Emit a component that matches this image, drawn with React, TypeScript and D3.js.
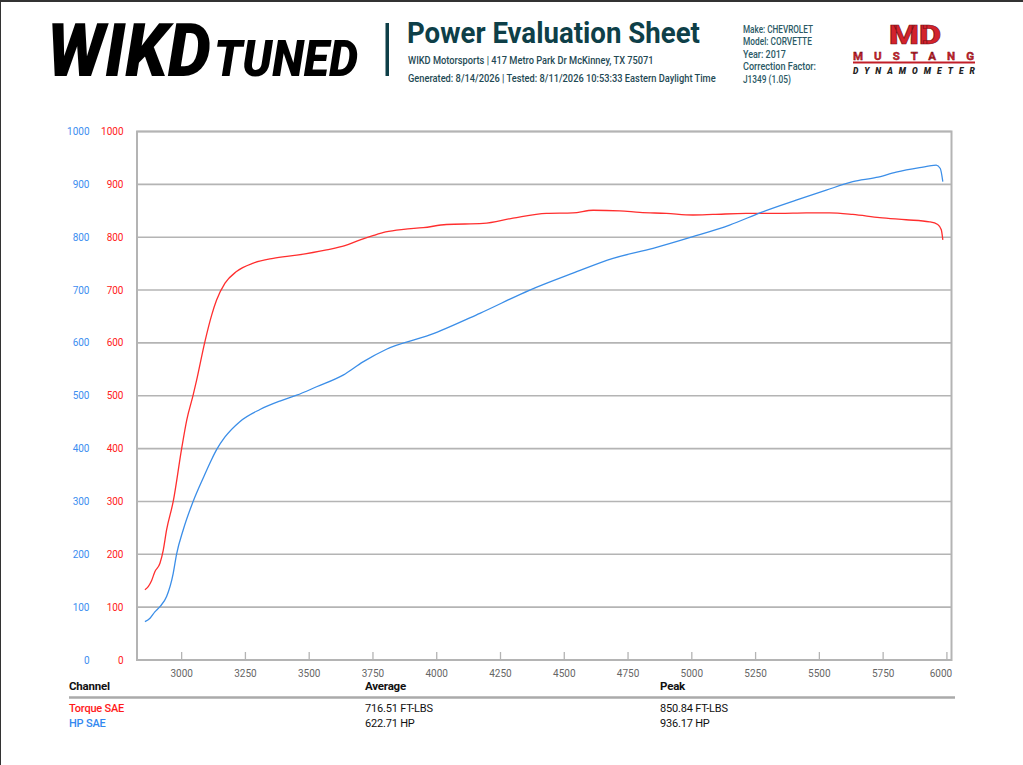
import React, { useLayoutEffect, useRef, useState } from "react";
import * as d3 from "d3";

// ---- Data ----
const torqueRpm = [2856, 2869, 2882, 2895, 2915, 2928, 2941, 2967, 3000, 3020, 3045, 3059, 3091, 3118, 3137, 3170, 3215, 3281, 3359, 3451, 3568, 3640, 3700, 3750, 3800, 3870, 3947, 4038, 4182, 4299, 4430, 4534, 4613, 4717, 4796, 4900, 5004, 5083, 5213, 5344, 5449, 5540, 5631, 5736, 5840, 5932, 5964, 5978, 5984];
const torqueVal = [133, 139, 150, 167, 183, 208, 246, 300, 400, 454, 501, 530, 602, 653, 681, 713, 735, 751, 760, 766, 776, 784, 795, 803, 810, 815, 818, 824, 826, 836, 845, 846, 851, 850, 847, 845, 842, 843, 845, 845, 846, 846, 843, 837, 833, 829, 824, 814, 795];

const hpRpm = [2856, 2876, 2895, 2915, 2941, 2967, 2980, 3006, 3045, 3085, 3118, 3137, 3170, 3228, 3307, 3385, 3451, 3529, 3633, 3711, 3803, 3973, 4169, 4365, 4534, 4691, 4848, 5004, 5148, 5278, 5409, 5527, 5631, 5723, 5801, 5893, 5958, 5974, 5984];
const hpVal = [72.5, 79, 91, 101, 120, 164, 200, 246, 300, 345, 380, 398, 422, 451, 474, 490, 501, 517, 539, 564, 588, 615, 656, 700, 732, 760, 779, 801, 823, 848, 870, 889, 905, 913, 923, 931.5, 936.2, 930, 905];

const xTicks = [3000, 3250, 3500, 3750, 4000, 4250, 4500, 4750, 5000, 5250, 5500, 5750, 6000];
const yTicks = [0, 100, 200, 300, 400, 500, 600, 700, 800, 900, 1000];

const tableHeader = ["Channel", "Average", "Peak"];
const channels = ["Torque SAE", "HP SAE"];
const averages = ["716.51 FT-LBS", "622.71 HP"];
const peaks = ["850.84 FT-LBS", "936.17 HP"];

const infoLines = ["Make: CHEVROLET", "Model: CORVETTE", "Year: 2017", "Correction Factor:", "J1349 (1.05)"];

// ---- Style ----
const RED = "#ff2e2e";
const BLUE = "#3b8ee8";
const GRID = "#b4b4b4";
const TEAL = "#0e3f48";
const FONT = "Roboto, 'Noto Sans', sans-serif";
const INFO_WIDTHS = [70, 69, 43, 73, 48];

// Text horizontally scaled so that its rendered width equals `width`.
function FitText(props: any) {
  const { x, y, width, children, ...rest } = props;
  const ref = useRef<SVGTextElement>(null);
  const [k, setK] = useState(1);
  useLayoutEffect(() => {
    const el = ref.current;
    if (el) {
      const len = el.getComputedTextLength();
      if (len > 0) setK(width / len);
    }
  }, [width, children]);
  return (
    <text ref={ref} x={0} y={0} transform={`translate(${x},${y}) scale(${k},1)`} {...rest}>
      {children}
    </text>
  );
}

export default function App() {
  const W = 1023, H = 765;
  const left = 137, right = 951.5, top = 131.5, bottom = 660;
  const x = d3.scaleLinear().domain([2825, 6018]).range([left, right]);
  const y = d3.scaleLinear().domain([0, 1000]).range([bottom, top]);

  const line = d3.line<[number, number]>()
    .x((d) => x(d[0]))
    .y((d) => y(d[1]))
    .curve(d3.curveMonotoneX);

  const torquePath = line(torqueRpm.map((r, i) => [r, torqueVal[i]]) as [number, number][]) || "";
  const hpPath = line(hpRpm.map((r, i) => [r, hpVal[i]]) as [number, number][]) || "";

  const colX = [69, 365, 660];

  return (
    <svg width={W} height={H} style={{ position: "absolute", left: 0, top: 0, background: "#fff" }} fontFamily={FONT}>
      <rect x={0} y={0} width={W} height={H} fill="#fff" />
      {/* page border */}
      <line x1={0} y1={1} x2={W} y2={1} stroke="#333" strokeWidth={2} />
      <line x1={0.5} y1={0} x2={0.5} y2={H} stroke="#333" strokeWidth={1} />

      {/* WIKD TUNED logo */}
      <FitText x={47} y={76} width={164} fontSize={74} fontWeight={900} fontStyle="italic" fill="#000">WIKD</FitText>
      <FitText x={214} y={76} width={144} fontSize={50} fontWeight={900} fontStyle="italic" fill="#000">TUNED</FitText>

      {/* teal separator */}
      <rect x={385.5} y={23} width={3.5} height={53} fill={TEAL} />

      {/* title block */}
      <FitText x={407} y={43} width={293} fontSize={30} fontWeight={700} fill={TEAL}>Power Evaluation Sheet</FitText>
      <FitText x={408} y={64} width={246} fontSize={11} fontWeight={500} fill="#1f4a55">WIKD Motorsports | 417 Metro Park Dr McKinney, TX 75071</FitText>
      <FitText x={408} y={82} width={308} fontSize={11} fontWeight={500} fill="#1f4a55">Generated: 8/14/2026 | Tested: 8/11/2026 10:53:33 Eastern Daylight Time</FitText>

      {/* vehicle info */}
      {infoLines.map((t, i) => (
        <FitText key={t} x={743} y={32.5 + i * 12.5} width={INFO_WIDTHS[i]} fontSize={10} fontWeight={500} fill="#2b5a66">{t}</FitText>
      ))}

      {/* Mustang Dynamometer logo */}
      <FitText x={889} y={43.5} width={52} fontSize={26} fontWeight={900} fill="#d3222c" stroke="#7a1016" strokeWidth={0.6}>MD</FitText>
      <text x={853} y={60} fontSize={11.5} fontWeight={700} fill="#d3222c" stroke="#6a0d12" strokeWidth={0.4} textLength={121} lengthAdjust="spacing">MUSTANG</text>
      <rect x={853} y={61.5} width={122} height={2} fill="#c21f28" />
      <text x={853} y={74} fontSize={8.5} fontWeight={900} fontStyle="italic" fill="#222" textLength={122} lengthAdjust="spacing">DYNAMOMETER</text>

      {/* gridlines */}
      {yTicks.map((t) => (
        <line key={"g" + t} x1={left} x2={right} y1={y(t)} y2={y(t)} stroke={GRID} strokeWidth={1.6} />
      ))}
      {/* frame */}
      <rect x={left} y={top} width={right - left} height={bottom - top} fill="none" stroke={GRID} strokeWidth={2} />

      {/* x ticks */}
      {xTicks.map((t) => (
        <g key={"x" + t}>
          <line x1={x(t)} x2={x(t)} y1={bottom} y2={bottom - 8} stroke={GRID} strokeWidth={1.3} />
          <text x={t === 6000 ? x(t) - 6 : x(t)} y={677} fontSize={10} fill="#666" textAnchor="middle">{t}</text>
        </g>
      ))}

      {/* y labels */}
      {yTicks.map((t) => (
        <g key={"y" + t}>
          <text x={89.5} y={y(t) + 3.5} fontSize={10} fill="#3d8ef0" textAnchor="end">{t}</text>
          <text x={123.5} y={y(t) + 3.5} fontSize={10} fill="#ff2020" textAnchor="end">{t}</text>
        </g>
      ))}

      {/* curves */}
      <path d={torquePath} fill="none" stroke={RED} strokeWidth={1.3} />
      <path d={hpPath} fill="none" stroke={BLUE} strokeWidth={1.3} />

      {/* table */}
      {tableHeader.map((h, i) => (
        <text key={h} x={colX[i]} y={690} fontSize={11.5} fontWeight={700} fill="#111" letterSpacing={-0.2}>{h}</text>
      ))}
      <line x1={69} x2={955} y1={697.5} y2={697.5} stroke="#aaa" strokeWidth={2.5} />
      {channels.map((c, i) => (
        <g key={c}>
          <text x={colX[0]} y={712 + i * 15} fontSize={11} fontWeight={500} fill={i === 0 ? "#ff1a1a" : "#3388f0"} letterSpacing={-0.2}>{c}</text>
          <text x={colX[1]} y={712 + i * 15} fontSize={11} fill="#111" letterSpacing={-0.2}>{averages[i]}</text>
          <text x={colX[2]} y={712 + i * 15} fontSize={11} fill="#111" letterSpacing={-0.2}>{peaks[i]}</text>
        </g>
      ))}
    </svg>
  );
}
